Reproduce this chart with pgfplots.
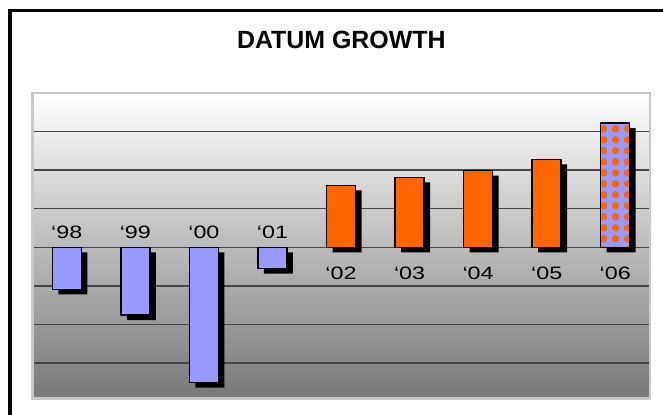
\documentclass[border=0pt]{standalone}
\usepackage{pgfplots}
\pgfplotsset{compat=1.18}
\usepackage{graphicx}
\usepackage{fontspec}
\setmainfont{Liberation Sans}
\usetikzlibrary{patterns.meta}

\definecolor{barblue}{RGB}{153,153,255}
\definecolor{barorange}{RGB}{255,102,0}
\definecolor{gridgray}{RGB}{70,70,70}
\definecolor{framegray}{RGB}{200,200,200}
\definecolor{bgbottom}{RGB}{120,120,120}
\definecolor{bgmiddle}{RGB}{200,200,200}

\tikzdeclarepattern{
  name=blobs,
  type=uncolored,
  bounding box={(0bp,0bp) and (11.5bp,10.7bp)},
  tile size={(11.5bp,10.7bp)},
  code={\fill (5.75bp,5.35bp) circle (3.8bp);}
}

\newcommand{\lbl}[1]{\fontsize{18}{20}\selectfont\scalebox{1.3}[1]{#1}}

\begin{document}
\begin{tikzpicture}
\clip (-32.5bp,-16.5bp) rectangle (630.5bp,398.5bp);
\begin{axis}[
  at={(0,0)}, anchor=south west,
  width=617bp, height=305.5bp,
  scale only axis,
  xmin=-0.5, xmax=8.5,
  ymin=-3.92, ymax=4,
  ytick={-3,-2,-1,0,1,2,3},
  xtick=\empty,
  yticklabels={},
  major tick length=0pt,
  ymajorgrids,
  major grid style={gridgray, line width=1.3bp},
  axis line style={framegray, line width=2bp},
  axis background/.style={shade, top color=white, middle color=bgmiddle, bottom color=bgbottom},
  ybar, bar width=29bp, bar shift=0pt,
  clip=false,
]
% shadows
\addplot[fill=black, draw=none, xshift=6bp, yshift=-5bp] coordinates {
  (0,-1.09) (1,-1.76) (2,-3.51) (3,-0.555) (4,1.605) (5,1.81) (6,1.99) (7,2.28) (8,3.22)};
% negative years
\addplot[fill=barblue, draw=black, line width=1.5bp] coordinates {
  (0,-1.09) (1,-1.76) (2,-3.51) (3,-0.555)};
% growth years
\addplot[fill=barorange, draw=black, line width=1.5bp] coordinates {
  (4,1.605) (5,1.81) (6,1.99) (7,2.28)};
% 2006 patterned bar
\addplot[fill=barblue, draw=black, line width=1.5bp,
  postaction={pattern=blobs, pattern color=barorange}] coordinates {
  (8,3.22)};

\node[anchor=base, inner sep=0pt] at (0,0.234) {\lbl{‘98}};
\node[anchor=base, inner sep=0pt] at (1,0.234) {\lbl{‘99}};
\node[anchor=base, inner sep=0pt] at (2,0.234) {\lbl{‘00}};
\node[anchor=base, inner sep=0pt] at (3,0.234) {\lbl{‘01}};
\node[anchor=base, inner sep=0pt] at (4,-0.83) {\lbl{‘02}};
\node[anchor=base, inner sep=0pt] at (5,-0.83) {\lbl{‘03}};
\node[anchor=base, inner sep=0pt] at (6,-0.83) {\lbl{‘04}};
\node[anchor=base, inner sep=0pt] at (7,-0.83) {\lbl{‘05}};
\node[anchor=base, inner sep=0pt] at (8,-0.83) {\lbl{‘06}};
\end{axis}
\node[inner sep=0pt] at (308.8bp,359bp) {\fontsize{25}{30}\selectfont\bfseries DATUM GROWTH};
\draw[line width=3.5bp] (-22.5bp,-40bp) -- (-22.5bp,388.2bp) -- (700bp,388.2bp);
\end{tikzpicture}
\end{document}
